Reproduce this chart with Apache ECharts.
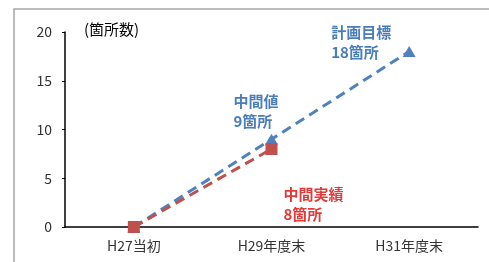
<!DOCTYPE html>
<html>
<head>
<meta charset="utf-8">
<script src="https://cdn.jsdelivr.net/npm/echarts@6/dist/echarts.min.js"></script>
<style>
  html, body { margin: 0; padding: 0; background: #fff; }
  #main { width: 489px; height: 262px; }
</style>
</head>
<body>
<div id="main"></div>
<script>
var categories = ['H27当初', 'H29年度末', 'H31年度末'];
var planValues = [0, 9, 18];
var actualValues = [0, 8];
var yTicks = [0, 5, 10, 15, 20];

var font = '"Noto Sans CJK JP", "Noto Sans", sans-serif';
var chart = echarts.init(document.getElementById('main'));

var option = {
  backgroundColor: '#ffffff',
  animation: false,
  grid: { left: 65, right: 11, top: 32, bottom: 35 },
  graphic: [
    {
      type: 'rect',
      shape: { x: 14, y: 9, width: 520, height: 320 },
      style: { fill: 'none', stroke: '#a6a6a6', lineWidth: 1.5 },
      silent: true
    },
    {
      type: 'text',
      left: 84, top: 22,
      style: { text: '(箇所数)', fill: '#000', font: '15px ' + font }
    }
  ],
  xAxis: {
    type: 'category',
    data: categories,
    boundaryGap: true,
    axisLine: { lineStyle: { color: '#000', width: 1.5 } },
    axisTick: { inside: true, length: 4, lineStyle: { color: '#000' } },
    axisLabel: { color: '#333', fontSize: 14, margin: 12, fontFamily: font }
  },
  yAxis: {
    type: 'value',
    min: yTicks[0],
    max: yTicks[yTicks.length - 1],
    interval: 5,
    splitLine: { show: false },
    axisLine: { show: true, lineStyle: { color: '#000', width: 1.5 } },
    axisTick: { show: true, length: 3, lineStyle: { color: '#000' } },
    axisLabel: { color: '#333', fontSize: 14, margin: 13, fontFamily: font }
  },
  series: [
    {
      name: '計画',
      type: 'line',
      data: planValues.map(function (v, i) {
        var item = { value: v };
        if (i === 1) {
          item.label = {
            show: true, position: 'inside', offset: [-38, -48],
            formatter: '中間値\n9箇所'
          };
        }
        if (i === 2) {
          item.label = {
            show: true, position: 'inside', offset: [-78, -29],
            formatter: '計画目標\n18箇所'
          };
        }
        return item;
      }),
      symbol: 'triangle',
      symbolSize: [13, 11],
      showSymbol: true,
      lineStyle: { color: '#4f81bd', width: 3, type: [10, 6] },
      itemStyle: { color: '#4f81bd' },
      label: {
        show: false, align: 'left', verticalAlign: 'top',
        color: '#4a7ebb', fontSize: 15, fontWeight: 'bold', lineHeight: 20,
        fontFamily: font
      },
      z: 2
    },
    {
      name: '実績',
      type: 'line',
      data: actualValues.map(function (v, i) {
        var item = { value: v };
        if (i === 1) {
          item.label = {
            show: true, position: 'inside', offset: [12, 35],
            formatter: '中間実績\n8箇所'
          };
        }
        return item;
      }),
      symbol: 'rect',
      symbolSize: 12,
      lineStyle: { color: '#c0504d', width: 3, type: [10, 6] },
      itemStyle: { color: '#c0504d' },
      label: {
        show: false, align: 'left', verticalAlign: 'top',
        color: '#e03a3a', fontSize: 15, fontWeight: 'bold', lineHeight: 20,
        fontFamily: font
      },
      z: 3
    }
  ]
};

chart.setOption(option);
</script>
</body>
</html>
